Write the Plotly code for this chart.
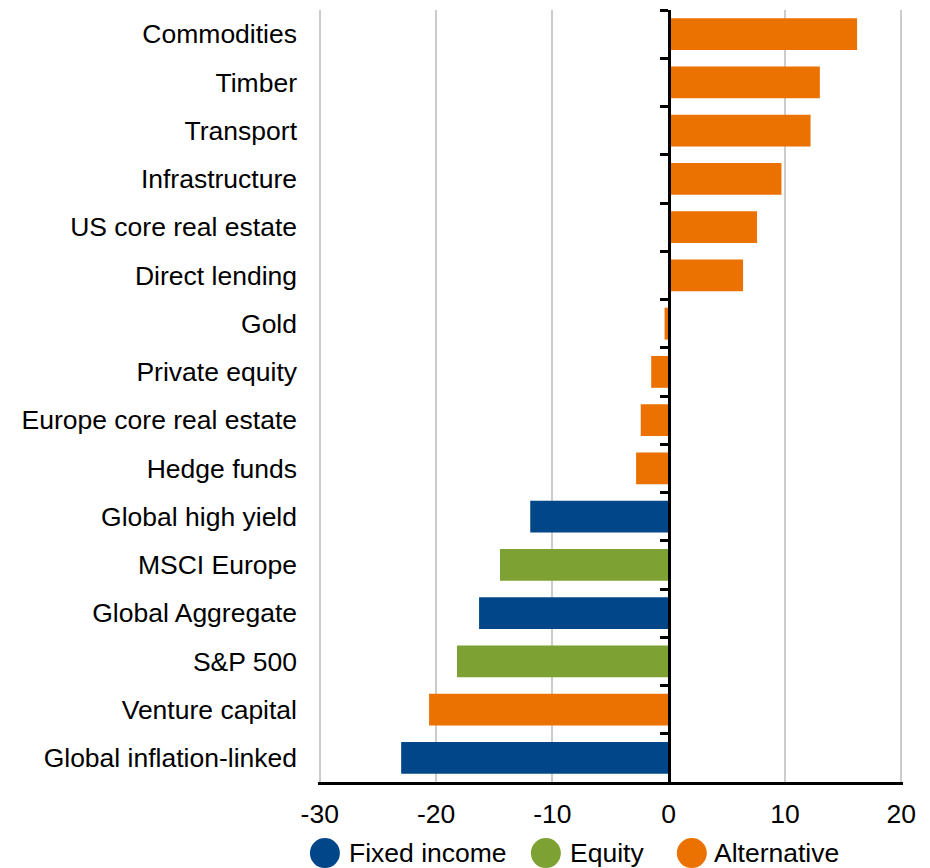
import plotly.graph_objects as go

categories = ["Commodities", "Timber", "Transport", "Infrastructure", "US core real estate",
              "Direct lending", "Gold", "Private equity", "Europe core real estate", "Hedge funds",
              "Global high yield", "MSCI Europe", "Global Aggregate", "S&P 500",
              "Venture capital", "Global inflation-linked"]
values = [16.2, 13.0, 12.2, 9.7, 7.6, 6.4, -0.35, -1.5, -2.4, -2.8,
          -11.9, -14.5, -16.3, -18.2, -20.6, -23.0]
groups = ["Alternative"] * 10 + ["Fixed income", "Equity", "Fixed income", "Equity",
                                 "Alternative", "Fixed income"]
group_order = ["Fixed income", "Equity", "Alternative"]
group_colors = {"Fixed income": "#02468A", "Equity": "#7DA233", "Alternative": "#EB7100"}
x_range = [-30.15, 20.15]
x_ticks = [-30, -20, -10, 0, 10, 20]

FONT = "Liberation Sans, Arial, sans-serif"
FS = 26.5

fig = go.Figure()
for g in group_order:
    xs = [v for v, gg in zip(values, groups) if gg == g]
    ys = [c for c, gg in zip(categories, groups) if gg == g]
    fig.add_trace(go.Bar(x=xs, y=ys, orientation="h", name=g,
                         marker=dict(color=group_colors[g], line=dict(width=0)),
                         showlegend=False))
# invisible trace to drive the zero-position category axis (line + boundary ticks)
fig.add_trace(go.Bar(x=[0] * len(categories), y=categories, orientation="h", yaxis="y2",
                     marker=dict(opacity=0), showlegend=False, hoverinfo="skip"))

zero_pos = (0 - x_range[0]) / (x_range[1] - x_range[0])

fig.update_layout(
    width=930, height=868,
    margin=dict(l=310, r=35, t=2, b=94),
    paper_bgcolor="white", plot_bgcolor="white",
    barmode="overlay", bargap=0.34,
    font=dict(family=FONT, size=FS, color="black"),
    xaxis=dict(range=x_range, tickvals=x_ticks, ticktext=[str(t) for t in x_ticks],
               showgrid=True, gridcolor="#cccccc", gridwidth=1.5, zeroline=False,
               showline=True, linecolor="black", linewidth=2.5, ticks="",
               ticklabelstandoff=6, tickfont=dict(size=FS, color="black")),
    yaxis=dict(type="category", categoryorder="array", categoryarray=categories,
               autorange="reversed", showgrid=False, zeroline=False, showline=False,
               ticks="", ticklabelstandoff=20, tickfont=dict(size=FS, color="black")),
    yaxis2=dict(type="category", categoryorder="array", categoryarray=categories,
                autorange="reversed", overlaying="y", anchor="free", position=zero_pos,
                side="left", showgrid=False, zeroline=False, showline=True,
                linecolor="black", linewidth=2.5, ticks="outside", tickson="boundaries",
                ticklen=8, tickwidth=2.5, tickcolor="black", showticklabels=False,
                layer="above traces"),
)

# custom legend with large circles (positions in paper fractions of the plot area)
legend_items = [("Fixed income", 0.0118, 0.0495), ("Equity", 0.3895, 0.427), ("Alternative", 0.639, 0.674)]
ly = -0.092
for name, cx, tx in legend_items:
    fig.add_shape(type="circle", xref="paper", yref="paper", xsizemode="pixel", ysizemode="pixel",
                  xanchor=cx, yanchor=ly, x0=-15, x1=15, y0=-15, y1=15,
                  fillcolor=group_colors[name], line=dict(width=0))
    fig.add_annotation(x=tx, y=ly, xref="paper", yref="paper", text=name, showarrow=False,
                       xanchor="left", yanchor="middle", font=dict(size=FS, color="black"))

fig.write_html("out.html")
